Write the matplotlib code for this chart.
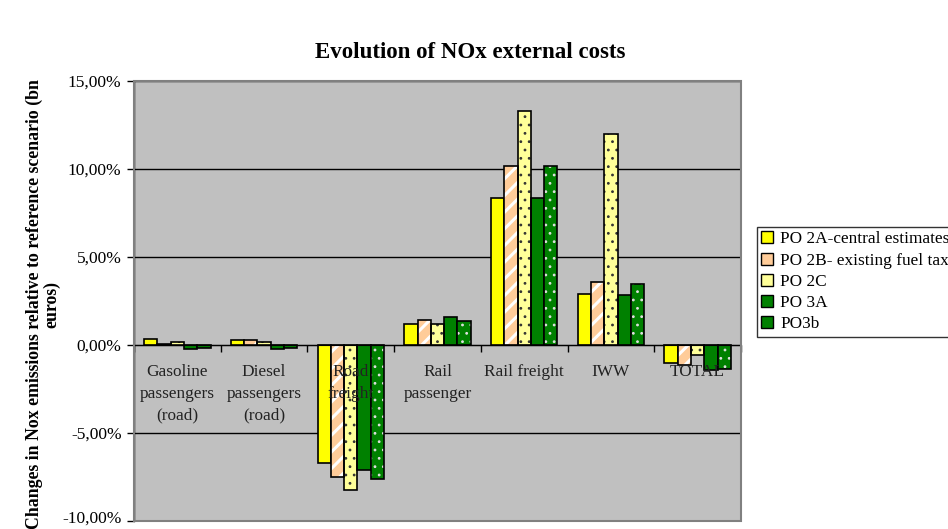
import matplotlib
matplotlib.use("Agg")
import matplotlib.pyplot as plt
import matplotlib.transforms as mtransforms
import numpy as np
from matplotlib.patches import Rectangle
from matplotlib.ticker import FuncFormatter, FixedLocator

plt.rcParams["font.family"] = ["Liberation Serif", "DejaVu Serif"]

categories = ["Gasoline\npassengers\n(road)", "Diesel\npassengers\n(road)", "Road\nfreight",
              "Rail\npassenger", "Rail freight", "IWW", "TOTAL"]
series_names = ["PO 2A-central estimates", "PO 2B- existing fuel tax", "PO 2C", "PO 3A", "PO3b"]
po2a = [0.34, 0.27, -6.69, 1.17, 8.37, 2.90, -1.00]
po2b = [0.08, 0.27, -7.50, 1.42, 10.17, 3.56, -1.15]
po2c = [0.19, 0.19, -8.26, 1.17, 13.30, 11.99, -0.57]
po3a = [-0.25, -0.25, -7.08, 1.59, 8.37, 2.82, -1.40]
po3b = [-0.17, -0.17, -7.60, 1.35, 10.17, 3.48, -1.35]
y_ticks = [-10, -5, 0, 5, 10, 15]

# face colour, hatch, hatch colour, hatch linewidth
STYLES = [
    ("#FFFF00", None, None, 1.0),
    ("#FFCC99", "//", "white", 2.2),
    ("#FFFF99", "..", "#333333", 0.8),
    ("#008000", None, None, 1.0),
    ("#008000", "..", "#E0E0E0", 0.8),
]

fig = plt.figure(figsize=(9.48, 5.29), dpi=100)
ax = fig.add_axes([134 / 948, 1 - 521 / 529, (741 - 134) / 948, (521 - 81) / 529])
ax.set_facecolor("#C0C0C0")

x = np.arange(len(categories))
w = 0.153
handles = []
for k, (vals, name) in enumerate(zip([po2a, po2b, po2c, po3a, po3b], series_names)):
    face, hatch, hcol, hlw = STYLES[k]
    pos = x + (k - 2) * w
    if hatch:
        with plt.rc_context({"hatch.linewidth": hlw}):
            ax.bar(pos, vals, width=w, color=face, hatch=hatch, edgecolor=hcol, linewidth=0, zorder=3)
        ax.bar(pos, vals, width=w, fill=False, edgecolor="black", linewidth=1.2, zorder=4)
    else:
        ax.bar(pos, vals, width=w, color=face, edgecolor="black", linewidth=1.2, zorder=3)
    handles.append(Rectangle((0, 0), 1, 1, facecolor=face, edgecolor="black", linewidth=1.0, label=name))

ax.set_xlim(-0.5, len(categories) - 0.5)
ax.set_ylim(-10, 15)
ax.yaxis.set_major_locator(FixedLocator(y_ticks))
ax.yaxis.set_major_formatter(FuncFormatter(lambda v, p: f"{v:.2f}%".replace(".", ",")))
ax.grid(axis="y", color="black", linewidth=1.0, zorder=1)
ax.set_axisbelow(True)

ax.spines["bottom"].set_position(("data", 0))
ax.spines["bottom"].set_zorder(5)
ax.spines["top"].set_visible(False)
ax.spines["right"].set_visible(False)
ax.spines["left"].set_linewidth(1.0)
ax.xaxis.set_major_locator(FixedLocator(np.arange(len(categories) + 1) - 0.5))
ax.set_xticklabels([])
ax.tick_params(axis="x", direction="out", length=5, width=1)
ax.tick_params(axis="y", direction="out", length=5, width=1, labelsize=12.5, pad=4)
ax.add_patch(Rectangle((0, 0), 1, 1, transform=ax.transAxes, fill=False,
                       edgecolor="#808080", linewidth=1.5, zorder=6, clip_on=False))

# nudge the bottom tick label up a little so it stays inside the canvas
lowest = ax.yaxis.get_major_ticks()[0].label1
lowest.set_transform(lowest.get_transform() + mtransforms.ScaledTranslation(0, 3 / 72, fig.dpi_scale_trans))

for xi, label in zip(x, categories):
    ax.text(xi, -1.1, label, ha="center", va="top", fontsize=12.4, linespacing=1.48,
            color="#222222", zorder=7)

fig.text(470 / 948, 1 - 52 / 529, "Evolution of NOx external costs", ha="center", va="center",
         fontsize=16.5, fontweight="bold")
fig.text(43 / 948, 0.425, "Changes in Nox emissions relative to reference scenario (bn\neuros)",
         rotation=90, ha="center", va="center", fontsize=12.8, fontweight="bold", linespacing=1.0)

leg = fig.legend(handles=handles, loc="upper left", bbox_to_anchor=(757 / 948, 1 - 227 / 529),
                 fontsize=12.4, frameon=True, fancybox=False, edgecolor="black",
                 handlelength=0.7, handleheight=0.7, handletextpad=0.4, labelspacing=0.3,
                 borderpad=0.25, borderaxespad=0)
leg.get_frame().set_linewidth(1.0)

fig.savefig("out.png", dpi=100)
